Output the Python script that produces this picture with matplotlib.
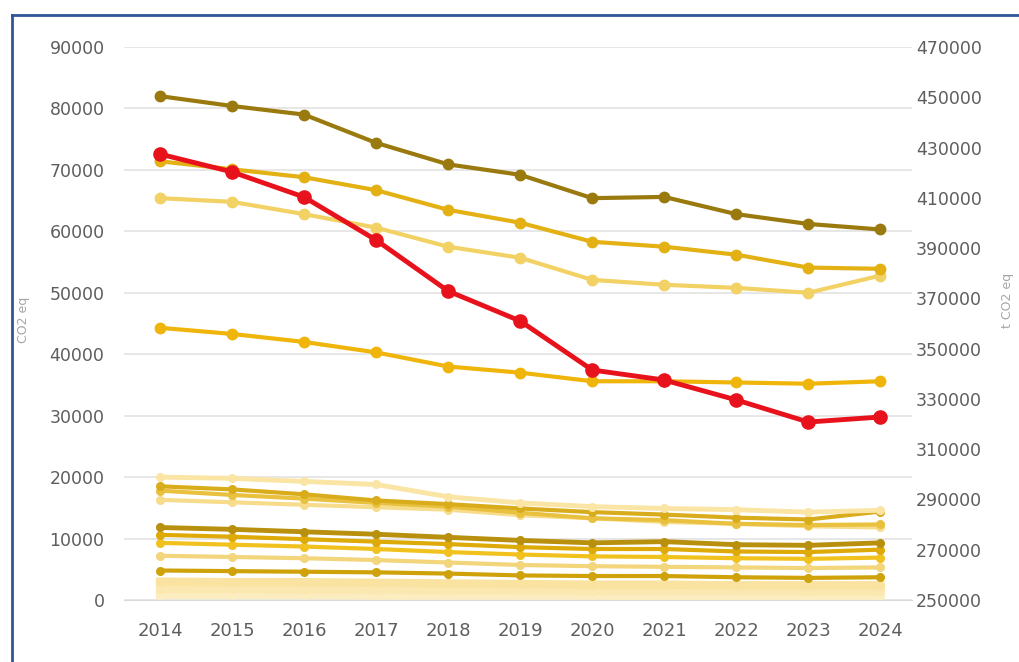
import matplotlib
matplotlib.use('Agg')
import matplotlib.pyplot as plt
from matplotlib.lines import Line2D

years = [2014, 2015, 2016, 2017, 2018, 2019, 2020, 2021, 2022, 2023, 2024]

# left axis series (big ones)
olive = [82000, 80400, 79000, 74400, 70900, 69200, 65400, 65600, 62800, 61200, 60300]
gold = [71400, 70100, 68800, 66700, 63500, 61400, 58300, 57500, 56200, 54100, 53900]
light_gold = [65400, 64800, 62800, 60600, 57500, 55700, 52100, 51300, 50800, 50000, 52800]
amber = [44300, 43300, 42000, 40300, 38000, 37000, 35600, 35600, 35400, 35200, 35600]

# left axis series (small cluster near the bottom)
s_a = [20000, 19800, 19300, 18800, 16800, 15800, 15200, 14900, 14700, 14300, 14600]
s_b = [18500, 18000, 17200, 16200, 15600, 14900, 14300, 13900, 13400, 13100, 14400]
s_c = [17800, 17100, 16500, 15800, 15200, 14200, 13300, 13000, 12400, 12200, 12300]
s_d = [16300, 15900, 15500, 15100, 14700, 13800, 13300, 12700, 12400, 12000, 11800]
s_e = [11800, 11500, 11100, 10700, 10200, 9700, 9300, 9500, 9000, 8900, 9300]
s_f = [10600, 10300, 9900, 9500, 9100, 8600, 8300, 8300, 7900, 7800, 8200]
s_g = [9300, 9000, 8700, 8300, 7800, 7400, 7100, 7000, 6800, 6700, 6900]
s_h = [7200, 7000, 6800, 6500, 6100, 5700, 5500, 5400, 5300, 5200, 5300]
s_i = [4800, 4700, 4600, 4500, 4300, 4000, 3900, 3900, 3700, 3600, 3700]
s_j = [3000, 2900, 2900, 2800, 2700, 2600, 2500, 2500, 2400, 2400, 2400]
s_k = [1800, 1800, 1700, 1700, 1600, 1600, 1500, 1500, 1500, 1400, 1400]
s_l = [800, 800, 800, 700, 700, 700, 700, 600, 600, 600, 600]

# right axis series
red = [427400, 420300, 410300, 393200, 372900, 361000, 341500, 337500, 329600, 320800, 322800]

fig = plt.figure(figsize=(10.19, 6.62), dpi=100)
ax = fig.add_axes([124/1019, 1-600/662, (912-124)/1019, (600-47)/662])
ax2 = ax.twinx()

small = [
    (s_l, '#FCEDC0', 6), (s_k, '#FBE8B0', 6), (s_j, '#FAE3A0', 6),
    (s_i, '#CFA20A', 3), (s_h, '#F3D57C', 3), (s_g, '#F1C11E', 3),
    (s_f, '#DDAA08', 3), (s_e, '#B8900E', 3.5),
    (s_d, '#F7DC8C', 3), (s_c, '#E9C13E', 3), (s_b, '#D9AC1C', 3),
    (s_a, '#FAE5A4', 3.5),
]
for vals, col, lw in small:
    ax.plot(years, vals, color=col, lw=lw, marker='o', ms=5.5, mec=col, zorder=2)

big = [
    (amber, '#F0B50A'), (light_gold, '#F2D264'),
    (gold, '#E3B114'), (olive, '#9A7A0E'),
]
for vals, col in big:
    ax.plot(years, vals, color=col, lw=3, marker='o', ms=7.5, mec=col, zorder=3)

ax2.plot(years, red, color='#E8121C', lw=3.5, marker='o', ms=9.5, zorder=4)

ax.set_xlim(2013.5, 2024.44)
ax.set_ylim(0, 90000)
ax2.set_ylim(250000, 470000)
ax.set_yticks(range(0, 90001, 10000))
ax2.set_yticks(range(250000, 470001, 20000))
ax.set_xticks(years)

ax.grid(axis='y', color='#E3E3E3', lw=1.2)
ax.set_axisbelow(True)
for a in (ax, ax2):
    for sp in a.spines.values():
        sp.set_visible(False)
ax.spines['bottom'].set_visible(True)
ax.spines['bottom'].set_color('#D9D9D9')

ax.tick_params(axis='y', length=0, pad=14, labelsize=12.5, labelcolor='#5E5E5E')
ax.tick_params(axis='x', length=0, pad=16, labelsize=13, labelcolor='#5E5E5E')
ax2.tick_params(axis='y', length=0, pad=3, labelsize=12.5, labelcolor='#5E5E5E')

# faint axis titles at the sides
fig.text(24/1019, 1-320/662, 'CO2 eq', rotation=90, ha='center', va='center',
         fontsize=9, color='#A6A6A6')
fig.text(1008/1019, 1-300/662, 't CO2 eq', rotation=90, ha='center', va='center',
         fontsize=9, color='#A6A6A6')

# blue frame
fig.add_artist(Line2D([12/1019, 12/1019], [0, 1-15/662], color='#2F5597', lw=2,
                      transform=fig.transFigure))
fig.add_artist(Line2D([12/1019, 1], [1-15/662, 1-15/662], color='#2F5597', lw=2,
                      transform=fig.transFigure))

plt.savefig('out.png', dpi=100)
